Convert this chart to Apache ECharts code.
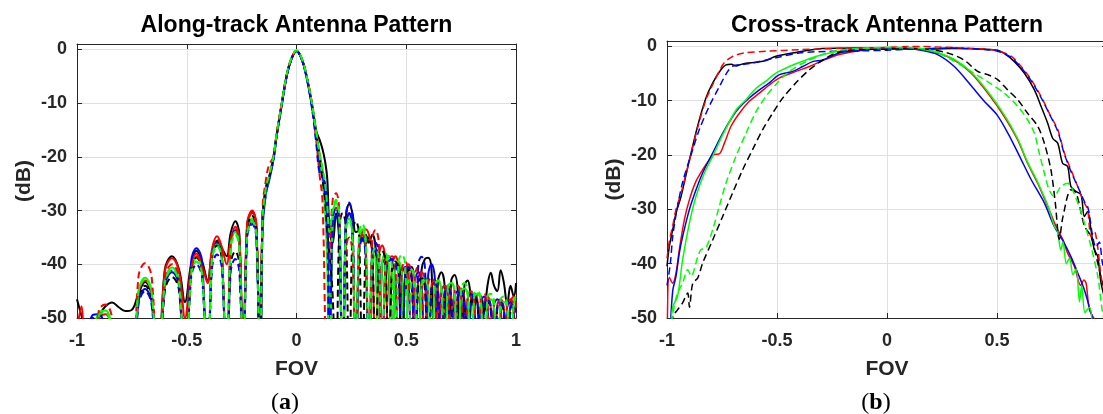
<!DOCTYPE html>
<html><head><meta charset="utf-8">
<script src="https://cdn.jsdelivr.net/npm/echarts@6/dist/echarts.min.js"></script>
<style>html,body{margin:0;padding:0;background:#fff}#c{width:1103px;height:414px}</style>
</head><body><div id="c"></div>
<script>
// ---------- text ----------
const plotTitles = ['Along-track Antenna Pattern', 'Cross-track Antenna Pattern'];
const panelTags = ['a', 'b'];
const xAxisName = 'FOV';
const yAxisName = '(dB)';
const xTickValues = [-1, -0.5, 0, 0.5, 1];
const yTickValues = [-50, -40, -30, -20, -10, 0];

// ---------- along-track (shared FOV sample positions) ----------
const alongX = [
  -1.0, -0.98, -0.96, -0.93, -0.90, -0.87, -0.84, -0.81, -0.78,
  -0.751, -0.72, -0.69, -0.66, -0.63, -0.60, -0.567, -0.535, -0.508, -0.48, -0.456, -0.43, -0.405, -0.385, -0.362, -0.34, -0.318, -0.30, -0.279, -0.26, -0.243, -0.225, -0.202, -0.183, -0.166,
  -0.155, -0.14, -0.125, -0.105, -0.09, -0.067, -0.046, -0.025, 0, 0.025, 0.046, 0.07, 0.09, 0.105, 0.118, 0.13, 0.14,
  0.15, 0.165, 0.18, 0.195, 0.21, 0.225, 0.24, 0.255,
  0.27, 0.285, 0.30, 0.315, 0.33, 0.345, 0.36, 0.375,
  0.39, 0.405, 0.42, 0.435, 0.45, 0.465, 0.48, 0.495,
  0.51, 0.525, 0.54, 0.555, 0.57, 0.585, 0.60, 0.615,
  0.63, 0.645, 0.66, 0.675, 0.69, 0.705, 0.72, 0.735,
  0.75, 0.765, 0.78, 0.795, 0.81, 0.825, 0.84, 0.855,
  0.87, 0.885, 0.90, 0.915, 0.93, 0.945, 0.96, 0.975,
  0.99, 1.0
];
const alongSolidBlack = [
  -46.5, -49.5, -52, -51, -49.5, -47.8, -47.1, -48.0, -48.7,
  -48.5, -45.5, -43.3, -45.8, -60, -41, -38.5, -41, -47, -40, -37.5, -39.5, -43, -37.8, -35.6, -37, -38.5, -34.2, -32, -34.5, -60, -32.7, -30.2, -32.7, -65,
  -32, -25.8, -24, -20, -15.8, -10.2, -5.2, -2, -0.3, -1.9, -5, -10.2, -15.2, -16.8, -18.5, -20.8, -24,
  -33, -36, -30.5, -36, -65, -31.5, -28.8, -30.5,
  -34, -33.8, -35.5, -34.5, -36, -34.5, -37, -60,
  -40, -39, -42, -60, -40.5, -39.5, -43, -45,
  -41, -40.5, -44, -60, -41, -39, -38.8, -41,
  -60, -43, -41.5, -44, -60, -43, -42, -45,
  -60, -44, -43, -46, -48, -45.5, -46, -49,
  -44, -41.6, -44, -45, -41.1, -43.5, -47.5, -44,
  -46, -43.5
];
const alongSolidRed = [
  -52, -47.8, -62, -55, -50, -49.3, -52, -60, -62,
  -65, -45.5, -43, -45.5, -62, -41.4, -38.9, -41.4, -50, -40.5, -38, -40.2, -43.5, -37.2, -34.8, -36.8, -40, -35.5, -33, -35.5, -62, -32.5, -30, -32.5, -65,
  -32, -25.8, -23.8, -20, -15.8, -10, -5.1, -2, -0.3, -1.9, -5, -10, -15.5, -19.5, -22.5, -25.5, -30,
  -65, -31, -29.5, -32, -65, -33, -30.5, -33,
  -65, -36, -34, -33.5, -34.5, -38, -62, -38.5,
  -36.5, -39, -62, -40, -38.5, -40.5, -62, -41.5,
  -40, -42, -62, -42.5, -41.5, -43, -62, -44,
  -43, -45, -62, -45, -44, -46, -62, -45.5,
  -44.5, -46.5, -62, -46, -45.5, -47, -62, -47,
  -46, -48, -62, -47.5, -46.5, -48.5, -62, -47,
  -46, -48
];
const alongSolidBlue = [
  -60, -62, -56, -49.5, -49.3, -53, -62, -65, -65,
  -65, -47, -44.6, -47, -65, -44, -41.5, -44, -65, -39.5, -37, -39.5, -65, -38.5, -36, -38.5, -65, -36.2, -33.7, -36.2, -65, -34.5, -32, -34.5, -65,
  -34, -27, -24.5, -20.5, -16, -10.3, -5.2, -2, -0.3, -2, -5.2, -10.5, -16, -21.5, -23.5, -25, -28,
  -60, -33, -31, -33.5, -65, -33, -30.5, -33,
  -65, -37, -35, -37.5, -62, -39, -37, -39.5,
  -62, -40, -38.5, -39.5, -42, -62, -42, -40.5,
  -42.5, -62, -43, -41.5, -43.5, -62, -42, -40,
  -42.5, -62, -45, -44, -46, -62, -46, -45,
  -47, -62, -46.5, -45.5, -47.5, -62, -47, -46,
  -48, -62, -47.5, -46.5, -48.5, -62, -48, -47,
  -49, -62
];
const alongSolidGreen = [
  -62, -62, -60, -53, -49, -48.6, -52, -62, -65,
  -65, -45, -42.5, -45, -65, -43.1, -40.6, -43.1, -65, -41.3, -38.8, -41.3, -65, -38.8, -36.3, -38.8, -65, -36.5, -34, -36.5, -65, -34, -31.5, -34, -65,
  -33, -26.5, -24, -20.3, -15.8, -10, -5, -1.8, -0.2, -1.8, -5, -10, -15.5, -20, -24, -30, -40,
  -65, -31, -28.5, -31.5, -65, -33, -31.5, -34,
  -65, -35.5, -33.5, -36, -65, -38, -39, -62,
  -39.5, -38, -40, -62, -41, -39.5, -41.5, -62,
  -42, -41, -43, -62, -43.5, -42.5, -44, -62,
  -44, -43, -45, -62, -44, -43.5, -45, -62,
  -45, -44.5, -46, -62, -46, -45.5, -47, -62,
  -47, -46.5, -48, -62, -47.5, -47, -48.5, -62,
  -47, -46.5
];
const alongDashBlack = [
  -62, -62, -62, -62, -60, -58, -62, -65, -65,
  -65, -46.5, -44, -46.5, -65, -44.9, -42.4, -44.9, -65, -41.2, -38.7, -41.2, -65, -39, -36.5, -39, -65, -40.1, -37.6, -40.1, -65, -33.5, -31, -33.5, -65,
  -32, -26, -24, -20.2, -15.9, -10.1, -5.1, -2, -0.3, -1.9, -5.1, -10.3, -15.8, -20, -24, -28, -34,
  -38, -46, -65, -33, -30.5, -33, -65, -34,
  -32, -34.5, -65, -37, -35, -37.5, -62, -39,
  -37.5, -39.5, -62, -41, -39.5, -41.5, -62, -42.5,
  -41, -43, -62, -43.5, -42.5, -44.5, -62, -44.5,
  -43.5, -45.5, -62, -45.5, -44.5, -46.5, -62, -46,
  -45.5, -47, -62, -47, -46, -47.5, -62, -47.5,
  -47, -48.5, -62, -48, -47.5, -49, -62, -48.5,
  -48, -49.5
];
const alongDashRed = [
  -62, -62, -62, -60, -48.5, -47.5, -50, -62, -65,
  -65, -42.3, -39.8, -42.3, -65, -42.5, -40, -42.5, -65, -41, -38.5, -41, -65, -37.7, -35.2, -37.7, -65, -36, -33.5, -36, -65, -33, -30.5, -33, -65,
  -30, -24.5, -21.5, -20, -15.5, -10, -5, -1.9, -0.3, -1.9, -5, -10, -17, -23.3, -28, -50, -70,
  -40, -28, -26.8, -30, -65, -37, -35, -38,
  -65, -36, -34.5, -36.5, -65, -35.5, -33.6, -36,
  -62, -41, -39, -38.5, -40, -62, -41, -39.5,
  -41.5, -62, -42, -40.5, -42.5, -62, -43.5, -42.5,
  -44, -62, -45, -44, -46, -62, -45, -44,
  -46, -62, -46, -45, -47, -62, -46.5, -45.5,
  -47.5, -62, -47, -46.5, -48, -62, -47.5, -46.5,
  -48, -62
];
const alongDashBlue = [
  -62, -62, -60, -50, -50.5, -55, -62, -65, -65,
  -65, -47.5, -45, -47.5, -65, -43.7, -41.2, -43.7, -65, -42.5, -40, -42.5, -65, -40.7, -38.2, -40.7, -65, -41.5, -39, -41.5, -65, -35, -32.5, -35, -65,
  -33, -27, -24, -20.5, -16, -10.3, -5.3, -2, -0.3, -2, -5.3, -10.8, -17.5, -23, -23.5, -27, -32,
  -60, -32, -29.5, -32.5, -65, -31, -28.5, -31.5,
  -65, -37.5, -35.5, -38, -65, -37.5, -36, -38,
  -62, -41, -39.5, -39, -40, -42, -62, -42,
  -40.5, -42.5, -62, -40, -38.6, -40.5, -62, -44.5,
  -43.5, -45, -62, -45.5, -44.5, -46, -62, -46,
  -45, -47, -62, -47, -46, -47.5, -62, -47.5,
  -46.5, -48, -62, -48, -47, -48.5, -62, -48,
  -47.5, -49
];
const alongDashGreen = [
  -62, -62, -62, -60, -49.5, -49, -53, -62, -65,
  -65, -45.3, -42.8, -45.3, -65, -43.5, -41, -43.5, -65, -42, -39.5, -42, -65, -39.1, -36.6, -39.1, -65, -37, -34.5, -37, -65, -34.5, -32, -34.5, -65,
  -32, -26, -23.5, -20, -15.6, -10, -5, -1.8, -0.2, -1.8, -5, -10, -15.5, -19.5, -22, -25, -29,
  -34, -30, -28, -31, -65, -33.5, -32, -34.5,
  -65, -34, -32.5, -35, -62, -38.5, -37, -39,
  -62, -40, -38.5, -40.5, -62, -39.5, -38.2, -40,
  -62, -43, -43.5, -62, -44, -43, -44.5, -62,
  -44, -43, -44.5, -62, -44, -43.5, -45, -62,
  -44.5, -43.5, -45, -62, -45.5, -45, -46.5, -62,
  -46, -45.5, -47, -62, -46.5, -46, -47.5, -62,
  -46.5, -46
];

// ---------- cross-track ([FOV, dB]) ----------
const crossSolidBlack = [[-1,-40.5],[-0.99,-37],[-0.974,-33.7],[-0.959,-30.7],[-0.936,-27.6],[-0.898,-20.9],[-0.861,-14.7],[-0.823,-9.5],[-0.792,-6.7],[-0.755,-4.3],[-0.732,-3.4],[-0.708,-3.3],[-0.686,-3.6],[-0.663,-3.3],[-0.641,-3.1],[-0.595,-2.9],[-0.55,-2.6],[-0.505,-1.8],[-0.414,-1.1],[-0.292,-0.4],[-0.141,-0.3],[0,-0.4],[0.15,-0.5],[0.3,-0.4],[0.45,-0.5],[0.503,-0.7],[0.533,-1.3],[0.579,-2.8],[0.624,-4.9],[0.67,-8],[0.70,-11],[0.73,-14.1],[0.753,-16.9],[0.776,-17.8],[0.798,-21.5],[0.821,-22.1],[0.836,-25.8],[0.859,-26.7],[0.882,-27.3],[0.897,-31.3],[0.912,-30.4],[0.927,-33.7],[0.942,-37.4],[0.958,-38.7],[0.973,-43.6],[1.0,-48]];
const crossSolidRed = [[-0.998,-50],[-0.99,-42.5],[-0.974,-43.6],[-0.959,-41.7],[-0.944,-37.4],[-0.921,-31.9],[-0.898,-28.2],[-0.868,-24.8],[-0.838,-22.7],[-0.808,-20.9],[-0.785,-19.9],[-0.762,-19.8],[-0.739,-17.8],[-0.709,-14.7],[-0.671,-12.3],[-0.626,-10.1],[-0.58,-8.6],[-0.535,-7.1],[-0.489,-5.8],[-0.414,-4.6],[-0.353,-3.7],[-0.292,-2.6],[-0.217,-1.5],[-0.11,-0.7],[0,-0.3],[0.155,-0.6],[0.23,-1.2],[0.306,-2.5],[0.382,-4.9],[0.458,-8.6],[0.533,-12.9],[0.594,-17.2],[0.639,-21.5],[0.685,-25.2],[0.73,-29.4],[0.768,-33.1],[0.8,-35.6],[0.82,-38],[0.852,-40.5],[0.88,-44],[0.895,-43],[0.905,-43.6],[0.92,-48.5],[0.94,-50],[0.96,-52]];
const crossSolidBlue = [[-0.985,-52],[-0.974,-45],[-0.959,-42.3],[-0.944,-38],[-0.929,-35],[-0.898,-30],[-0.868,-26.4],[-0.838,-23.3],[-0.792,-19.6],[-0.747,-16],[-0.702,-12.9],[-0.672,-11.3],[-0.626,-9.5],[-0.58,-8],[-0.535,-6.7],[-0.489,-5.2],[-0.429,-4.6],[-0.383,-3.7],[-0.338,-2.8],[-0.292,-2.5],[-0.217,-1.2],[-0.14,-0.8],[0,-0.4],[0.1,-0.4],[0.155,-0.7],[0.23,-1.5],[0.306,-3.7],[0.382,-7.2],[0.44,-10],[0.5,-12.6],[0.55,-16],[0.6,-20],[0.655,-24.5],[0.715,-28.8],[0.76,-33.1],[0.8,-35.8],[0.836,-38.7],[0.867,-41.7],[0.897,-44.8],[0.927,-49],[0.95,-52]];
const crossSolidGreen = [[-0.983,-52],[-0.974,-48],[-0.952,-46],[-0.929,-39.3],[-0.898,-32.5],[-0.868,-27.6],[-0.83,-23.3],[-0.792,-20.2],[-0.747,-16.3],[-0.686,-11.7],[-0.641,-9.8],[-0.595,-7.7],[-0.55,-6.4],[-0.505,-4.9],[-0.444,-3.7],[-0.368,-2.5],[-0.292,-1.5],[-0.217,-0.9],[-0.14,-0.5],[0,-0.2],[0.1,-0.3],[0.155,-0.5],[0.23,-1.1],[0.306,-2.4],[0.382,-4.7],[0.458,-8.3],[0.533,-12.6],[0.594,-17],[0.639,-21.3],[0.685,-25],[0.73,-29.2],[0.76,-33],[0.775,-34],[0.79,-37.5],[0.80,-36],[0.815,-40],[0.83,-39],[0.845,-42],[0.86,-41],[0.875,-47],[0.885,-44],[0.9,-49],[0.92,-48],[0.935,-52]];
const crossDashBlack = [[-0.98,-51],[-0.97,-49.5],[-0.952,-48.5],[-0.929,-47.2],[-0.906,-45.4],[-0.898,-48],[-0.883,-43.6],[-0.86,-42.6],[-0.838,-39.9],[-0.792,-35.6],[-0.747,-31.3],[-0.702,-27],[-0.656,-22.7],[-0.611,-19],[-0.565,-15.3],[-0.52,-12.3],[-0.474,-9.5],[-0.414,-6.7],[-0.353,-4.3],[-0.292,-2.5],[-0.232,-1.2],[-0.171,-0.7],[-0.1,-0.5],[0,-0.5],[0.1,-0.3],[0.2,-0.6],[0.276,-1.2],[0.35,-2.5],[0.412,-4.6],[0.458,-5.2],[0.503,-6.1],[0.548,-8],[0.594,-9.8],[0.639,-12.3],[0.685,-14.7],[0.715,-17.8],[0.745,-22.7],[0.765,-28.8],[0.783,-35.5],[0.80,-31.3],[0.836,-26.4],[0.86,-27],[0.897,-33],[0.927,-35],[0.958,-39.9],[0.98,-43.6],[1.0,-46]];
const crossDashRed = [[-1,-39],[-0.99,-36],[-0.974,-33],[-0.959,-30],[-0.936,-27],[-0.898,-21],[-0.861,-15],[-0.823,-9.8],[-0.792,-7],[-0.762,-4.5],[-0.74,-3],[-0.70,-1.8],[-0.65,-1.2],[-0.55,-0.9],[-0.4,-0.6],[-0.15,-0.3],[0,-0.2],[0.1,0],[0.3,-0.2],[0.45,-0.5],[0.503,-0.8],[0.564,-1.8],[0.61,-3.7],[0.655,-6.1],[0.70,-9.2],[0.745,-12.9],[0.776,-15.3],[0.806,-19.6],[0.836,-22.7],[0.867,-25.8],[0.897,-28.8],[0.912,-30],[0.927,-35],[0.942,-34],[0.958,-37],[0.973,-42.3],[0.99,-45],[1.0,-44]];
const crossDashBlue = [[-1,-44],[-0.985,-40],[-0.974,-35],[-0.959,-31],[-0.929,-25],[-0.883,-19],[-0.853,-15.3],[-0.808,-11],[-0.762,-7.4],[-0.724,-4.6],[-0.70,-3.6],[-0.65,-3.3],[-0.595,-2.9],[-0.505,-2.1],[-0.40,-1.2],[-0.25,-0.9],[-0.1,-0.8],[0,-0.7],[0.1,-0.5],[0.3,-0.3],[0.45,-0.6],[0.503,-0.9],[0.564,-2],[0.61,-3.9],[0.655,-6.3],[0.70,-9.4],[0.745,-13],[0.776,-15.6],[0.806,-19.8],[0.836,-23],[0.867,-25.8],[0.88,-27],[0.897,-28.5],[0.912,-29.5],[0.92,-31],[0.935,-35],[0.95,-37],[0.965,-36],[0.98,-40],[1.0,-42]];
const crossDashGreen = [[-0.978,-51],[-0.968,-48],[-0.952,-45.4],[-0.929,-43.6],[-0.906,-41.1],[-0.89,-42.3],[-0.86,-38.7],[-0.845,-37.4],[-0.823,-37.1],[-0.792,-33.7],[-0.762,-29.4],[-0.732,-25.2],[-0.686,-20.2],[-0.641,-16],[-0.595,-12],[-0.55,-9.2],[-0.505,-7],[-0.444,-4.6],[-0.368,-2.8],[-0.292,-1.5],[-0.217,-0.7],[-0.14,-0.4],[0,-0.2],[0.1,-0.2],[0.2,-0.7],[0.3,-2.6],[0.382,-4.6],[0.43,-5.8],[0.47,-6.8],[0.533,-8.6],[0.594,-11],[0.639,-13.5],[0.67,-16],[0.692,-19.6],[0.715,-23.3],[0.737,-26.4],[0.76,-27.6],[0.79,-25.8],[0.82,-25.2],[0.867,-28.8],[0.897,-32.5],[0.927,-36.8],[0.958,-42.3],[0.98,-49],[1.0,-52]];

// ---------- build ----------
const SANS = '"Liberation Sans", Arial, Helvetica, sans-serif';
const SERIF = '"Liberation Serif", "DejaVu Serif", serif';
const AX = '#262626';
const COL = { k: '#000000', r: '#ff0000', b: '#0000ff', g: '#00ff00' };

function zip(xs, ys) { return xs.map((x, i) => [x, ys[i]]); }

const alongSeries = [
  ['k', false, alongSolidBlack], ['r', false, alongSolidRed], ['b', false, alongSolidBlue], ['g', false, alongSolidGreen],
  ['k', true, alongDashBlack], ['r', true, alongDashRed], ['b', true, alongDashBlue], ['g', true, alongDashGreen]
];
const crossSeries = [
  ['k', false, crossSolidBlack], ['r', false, crossSolidRed], ['b', false, crossSolidBlue], ['g', false, crossSolidGreen],
  ['k', true, crossDashBlack], ['r', true, crossDashRed], ['b', true, crossDashBlue], ['g', true, crossDashGreen]
];

const grids = [
  { left: 77, top: 44, width: 439, height: 274, outerBoundsMode: 'none', containLabel: false },
  { left: 667, top: 41, width: 440, height: 277, outerBoundsMode: 'none', containLabel: false }
];

const xAxes = [], yAxes = [];
grids.forEach((g, gi) => {
  xAxes.push({
    type: 'value', gridIndex: gi, min: -1, max: 1, interval: 0.5, position: 'bottom',
    name: xAxisName, nameLocation: 'middle', nameGap: 41,
    nameTextStyle: { fontFamily: SANS, fontSize: 21, fontWeight: 'bold', color: AX },
    axisLine: { show: true, onZero: false, lineStyle: { color: AX, width: 1 } },
    axisTick: { show: true, inside: true, length: 5, lineStyle: { color: AX } },
    axisLabel: { fontFamily: SANS, fontSize: 18, fontWeight: 'bold', color: AX, margin: 14, hideOverlap: false,
      formatter: v => (xTickValues.indexOf(v) >= 0 ? String(v) : '') },
    splitLine: { show: true, lineStyle: { color: '#e0e0e0', width: 1 } }
  });
  xAxes.push({
    type: 'value', gridIndex: gi, min: -1, max: 1, interval: 0.5, position: 'top',
    axisLine: { show: true, onZero: false, lineStyle: { color: AX, width: 1 } },
    axisTick: { show: true, inside: true, length: 5, lineStyle: { color: AX } },
    axisLabel: { show: false }, splitLine: { show: false }
  });
  yAxes.push({
    type: 'value', gridIndex: gi, min: -50, max: 1, interval: 10, position: 'left',
    name: yAxisName, nameLocation: 'middle', nameGap: 42, nameRotate: 90,
    nameTextStyle: { fontFamily: SANS, fontSize: 21, fontWeight: 'bold', color: AX },
    axisLine: { show: true, onZero: false, lineStyle: { color: AX, width: 1 } },
    axisTick: { show: true, inside: true, length: 5, lineStyle: { color: AX } },
    axisLabel: { fontFamily: SANS, fontSize: 18, fontWeight: 'bold', color: AX, margin: 10,
      formatter: v => (yTickValues.indexOf(v) >= 0 ? String(v) : '') },
    splitLine: { show: true, lineStyle: { color: '#e0e0e0', width: 1 } }
  });
  yAxes.push({
    type: 'value', gridIndex: gi, min: -50, max: 1, interval: 10, position: 'right',
    axisLine: { show: true, onZero: false, lineStyle: { color: AX, width: 1 } },
    axisTick: { show: true, inside: true, length: 5, lineStyle: { color: AX } },
    axisLabel: { show: false }, splitLine: { show: false }
  });
});

const series = [];
function addSeries(list, gi, isAlong) {
  list.forEach(([c, dashed, d]) => {
    series.push({
      type: 'line', xAxisIndex: gi * 2, yAxisIndex: gi * 2,
      data: isAlong ? zip(alongX, d) : d,
      showSymbol: false, symbol: 'none', smooth: isAlong ? 0.4 : 0.3, clip: true, silent: true,
      lineStyle: { color: COL[c], width: isAlong ? 2 : 1.5, type: dashed ? [7, 4] : 'solid' }
    });
  });
}
addSeries(alongSeries, 0, true);
addSeries(crossSeries, 1, false);

const centers = [296.5, 887];
const tagCenters = [285, 876];
const graphic = [];
plotTitles.forEach((t, i) => {
  graphic.push({ type: 'text', x: centers[i], y: 26, silent: true,
    style: { text: t, font: 'bold 23px ' + SANS, fill: '#000', align: 'center', verticalAlign: 'middle',
      textAlign: 'center', textVerticalAlign: 'middle' } });
  graphic.push({ type: 'text', x: tagCenters[i], y: 403, silent: true,
    style: { text: '{n|(}{b|' + panelTags[i] + '}{n|)}', align: 'center', verticalAlign: 'middle',
      textAlign: 'center', textVerticalAlign: 'middle', fill: '#000',
      rich: { n: { font: '24px ' + SERIF, fill: '#000' }, b: { font: 'bold 24px ' + SERIF, fill: '#000' } } } });
});

const chart = echarts.init(document.getElementById('c'), null, { renderer: 'canvas' });
chart.setOption({
  animation: false,
  backgroundColor: '#ffffff',
  grid: grids,
  xAxis: xAxes,
  yAxis: yAxes,
  series: series,
  graphic: graphic
});
</script>
</body></html>
